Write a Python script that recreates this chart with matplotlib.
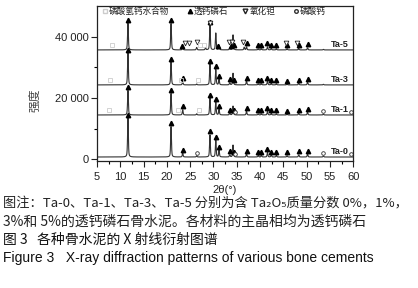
import numpy as np
import matplotlib
matplotlib.use("Agg")
import matplotlib.pyplot as plt

# ---- data ----
samples = ["Ta-0", "Ta-1", "Ta-3", "Ta-5"]
offsets = [800, 14500, 24300, 35700]          # vertical stacking of each pattern

# peak positions (2theta, deg) and heights above each baseline
peak_pos = [11.65, 20.9, 23.4, 26.4, 28.3, 29.25, 30.5, 31.2, 33.5, 34.2, 36.6,
            37.1, 39.6, 40.3, 41.6, 42.4, 43.5, 45.8, 48.3, 50.2, 53.6]
h_ta0 = [12700, 9900, 1300, 400, 0, 7200, 5500, 2200, 700, 3900, 0,
         1000, 500, 500, 1500, 600, 500, 400, 700, 900, 300]
h_ta1 = [8000, 7000, 1700, 400, 0, 5500, 4200, 1800, 600, 2900, 0,
         1200, 400, 400, 1200, 500, 400, 300, 600, 900, 300]
h_ta3 = [10400, 7500, 1200, 300, 0, 6800, 5000, 1800, 700, 3800, 0,
         1300, 400, 400, 1300, 500, 400, 300, 600, 800, 200]
h_ta5 = [8700, 8600, 900, 800, 700, 8000, 5500, 1500, 700, 4900, 900,
         1000, 400, 400, 1000, 500, 400, 400, 500, 700, 200]
heights = [h_ta0, h_ta1, h_ta3, h_ta5]

# phase markers (2theta positions) for each pattern
brushite = [
    [11.65, 20.9, 23.4, 29.25, 30.5, 31.2, 33.5, 34.4, 37.1, 39.6, 40.3, 41.6, 42.4, 43.5, 45.8, 48.3, 50.2],
    [11.65, 20.9, 23.4, 29.25, 30.5, 31.2, 33.5, 34.4, 37.1, 39.6, 40.3, 41.6, 42.4, 43.5, 45.8, 48.3, 50.2],
    [11.65, 20.9, 23.4, 29.25, 30.5, 31.2, 33.5, 34.4, 37.1, 39.6, 40.3, 41.6, 42.4, 43.5, 45.8, 48.3, 50.2],
    [11.65, 20.9, 23.2, 29.25, 30.9, 33.8, 34.4, 37.1, 39.6, 40.3, 41.6, 42.4, 43.5, 45.8, 48.3, 50.2],
]
ta2o5 = [[], [], [], [23.9, 24.8, 26.5, 29.3, 33.4, 33.9, 36.4, 45.6, 47.9]]
caphos = [[26.4, 34.6, 53.6, 59.6], [34.6, 53.6, 59.6], [], []]
dchp = [[], [7.6, 22.3, 26.8], [7.8, 23.0, 26.6], [8.2, 27.2, 28.0]]

legend_items = ["磷酸氢钙水合物", "透钙磷石", "氧化钽", "磷酸钙"]
yticks = [0, 20000, 40000]
ytick_labels = ["0", "20 000", "40 000"]
xticks = list(range(5, 61, 5))

two_theta = np.arange(5, 60.001, 0.01)
fwhm = 0.2


def pattern(base, hs):
    y = np.full_like(two_theta, float(base))
    for p, h in zip(peak_pos, hs):
        g = np.exp(-4 * np.log(2) * ((two_theta - p) / fwhm) ** 2)
        l = 1 / (1 + ((two_theta - p) / (fwhm / 2)) ** 2)
        y += h * (0.5 * g + 0.5 * l)
    return y


fig = plt.figure(figsize=(4.18, 2.88), dpi=100)
ax = fig.add_axes([0.232, 0.441, 0.613, 0.538])

cjk = ["Noto Sans CJK SC", "DejaVu Sans"]
lat = ["Liberation Sans", "DejaVu Sans"]

for i, name in enumerate(samples):
    y = pattern(offsets[i], heights[i])
    ax.plot(two_theta, y, color="#333333", lw=0.8)
    if brushite[i]:
        bx = np.array(brushite[i])
        ax.plot(bx, np.interp(bx, two_theta, y) + 1100, ls="none", marker="^",
                ms=3.2, color="black")
    if ta2o5[i]:
        vx = np.array(ta2o5[i])
        ax.plot(vx, np.interp(vx, two_theta, y) + 2300, ls="none", marker="v",
                ms=3.4, mfc="white", mec="#222222", mew=0.6)
    if caphos[i]:
        cx = np.array(caphos[i])
        ax.plot(cx, np.interp(cx, two_theta, y) + 900, ls="none", marker="o",
                ms=2.6, mfc="white", mec="#333333", mew=0.6)
    if dchp[i]:
        sx = np.array(dchp[i])
        ax.plot(sx, np.interp(sx, two_theta, y) + 1500, ls="none", marker="s",
                ms=3.0, mfc="none", mec="#cccccc", mew=0.6)
    ax.text(55.3, offsets[i] + 1700, name, fontsize=6.5, fontweight="bold",
            family=lat, ha="left", va="center", color="#222222")

# legend row inside the frame
lx_mark = [0.031, 0.363, 0.578, 0.777]
lx_text = [0.045, 0.377, 0.598, 0.793]
lstyles = [dict(marker="s", mfc="none", mec="#cccccc", ms=3.0),
           dict(marker="^", color="black", ms=3.2),
           dict(marker="v", mfc="white", mec="#222222", ms=3.4),
           dict(marker="o", mfc="white", mec="#333333", ms=2.6)]
for mx, tx, lab, st in zip(lx_mark, lx_text, legend_items, lstyles):
    ax.plot([mx], [0.965], ls="none", transform=ax.transAxes, clip_on=False, **st)
    ax.text(tx, 0.965, lab, transform=ax.transAxes, fontsize=6.2, family=cjk,
            ha="left", va="center", color="#222222")

ax.set_xlim(5, 60)
ax.set_ylim(-500, 50000)
ax.set_xticks(xticks)
ax.set_xticks(np.arange(7.5, 60, 5), minor=True)
ax.set_yticks(yticks)
ax.set_yticklabels(ytick_labels)
ax.set_yticks([10000, 30000], minor=True)
ax.tick_params(which="major", direction="out", length=4, width=0.8, labelsize=8,
               colors="#222222", pad=2)
ax.tick_params(axis="x", which="major", pad=4)
ax.tick_params(which="minor", direction="out", length=2, width=0.8)
for lab in ax.get_xticklabels() + ax.get_yticklabels():
    lab.set_family(lat)
for s in ax.spines.values():
    s.set_linewidth(0.9)
    s.set_color("#222222")

ax.set_xlabel("2θ(°)", fontsize=8, family=lat, color="#222222", labelpad=2)
fig.text(35 / 418, 1 - 100 / 288, "强度", rotation=90, fontsize=8.5, family=cjk,
         ha="center", va="center", color="#444444")

# caption
fig.text(3 / 418, 1 - 204 / 288,
         "图注：Ta-0、Ta-1、Ta-3、Ta-5 分别为含 Ta₂O₅质量分数 0%，1%，",
         fontsize=9.5, family=cjk, ha="left", va="center", color="#222222")
fig.text(3 / 418, 1 - 222 / 288,
         "3%和 5%的透钙磷石骨水泥。各材料的主晶相均为透钙磷石",
         fontsize=10, family=cjk, ha="left", va="center", color="#222222")
fig.text(3 / 418, 1 - 240 / 288, "图 3   各种骨水泥的 X 射线衍射图谱",
         fontsize=10, family=cjk, ha="left", va="center", color="#111111")
fig.text(3 / 418, 1 - 258 / 288,
         "Figure 3   X-ray diffraction patterns of various bone cements",
         fontsize=10, family=lat, ha="left", va="center", color="#111111")

fig.savefig("out.png", dpi=100)
